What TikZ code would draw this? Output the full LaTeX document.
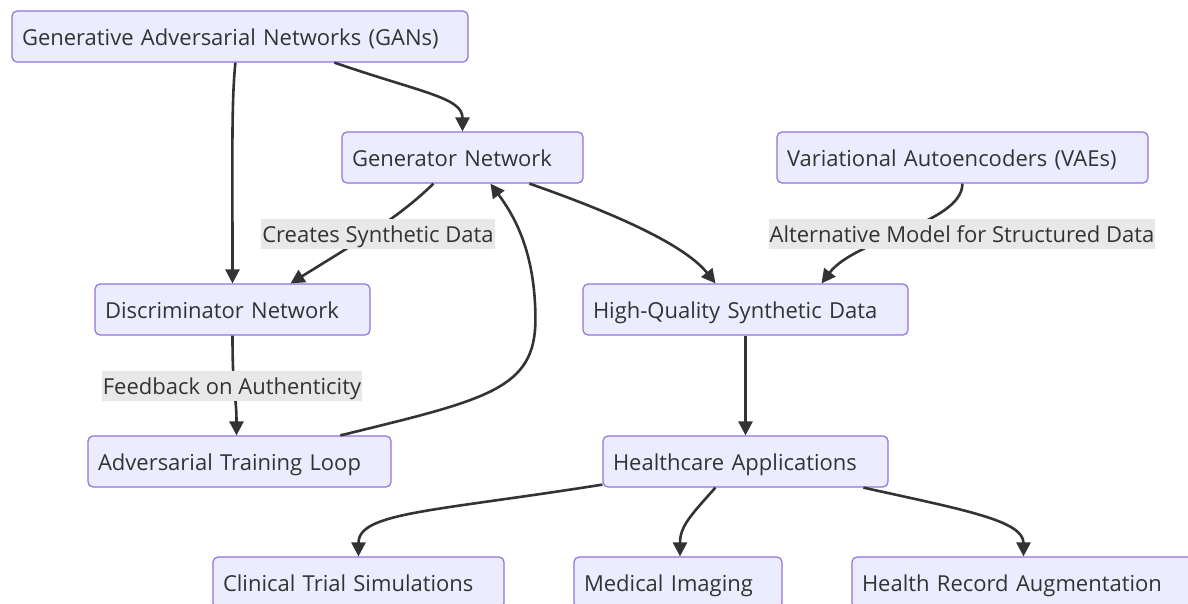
\documentclass[tikz,border=0pt]{standalone}
\usepackage{fontspec}
\setmainfont{Open Sans}
\usetikzlibrary{arrows.meta,calc}
\definecolor{boxfill}{HTML}{ECECFF}
\definecolor{boxline}{HTML}{9370DB}
\definecolor{ink}{HTML}{333333}
\definecolor{lblgray}{HTML}{E8E8E8}
\begin{document}
\begin{tikzpicture}[x=1pt,y=-1pt,
  box/.style={draw=boxline, fill=boxfill, line width=1.2pt, rounded corners=5pt,
    inner xsep=10pt, inner ysep=0pt, minimum height=51pt, align=left,
    text height=20pt, text depth=2pt,
    text=ink, font=\fontsize{22}{26}\selectfont},
  lbl/.style={fill=lblgray, inner xsep=1pt, inner ysep=0pt, minimum height=30pt,
    text height=19pt, text depth=3pt,
    text=ink, font=\fontsize{22}{26}\selectfont},
  flow/.style={draw=ink, line width=2.6pt, -{Triangle[length=14pt,width=14pt]}}]
\path[use as bounding box] (0,0) rectangle (1188,603);
\clip (0,0) rectangle (1188,603);

% model boxes
\node[box, text width=436pt] (gans) at (240,36.5) {Generative Adversarial Networks (GANs)};
\node[box, text width=221pt] (gen)  at (462.5,157.5) {Generator Network};
\node[box, text width=351pt] (vae)  at (962.5,157.5) {Variational Autoencoders (VAEs)};
\node[box, text width=255pt] (disc) at (232.5,309.5) {Discriminator Network};
\node[box, text width=305pt] (hq)   at (745.5,309.5) {High-Quality Synthetic Data};
\node[box, text width=283pt] (adv)  at (239.5,461.5) {Adversarial Training Loop};
\node[box, text width=265pt] (hc)   at (745.5,461.5) {Healthcare Applications};
\node[box, text width=271pt] (cts)  at (358.5,582.5) {Clinical Trial Simulations};
\node[box, text width=188pt] (med)  at (678,582.5) {Medical Imaging};
\node[box, text width=321pt] (hra)  at (1022.5,582.5) {Health Record Augmentation};

% connectors (offsets in picture units, y pointing down)
\draw[flow] ($(gans.south west)+(224,0)$) .. controls ($(gans.south west)+(220,40)$) and ($(disc.north)+(0,-130)$) .. (disc.north);
\draw[flow] ($(gans.south west)+(323,0)$) .. controls ($(gans.south west)+(410,30)$) and ($(gen.north)+(0,-34)$) .. (gen.north);
\draw[flow] ($(gen.south west)+(92,0)$) .. controls ($(gen.south west)+(58,34)$) and ($(disc.north)+(116,-36)$) .. ($(disc.north)+(58,0)$);
\draw[flow] ($(gen.south west)+(188,0)$) .. controls ($(gen.south west)+(268,28)$) and ($(hq.north)+(-62,-40)$) .. ($(hq.north)+(-30,0)$);
\draw[flow] ($(vae.south west)+(186,0)$) .. controls ($(vae.south west)+(186,40)$) and ($(hq.north)+(110,-45)$) .. ($(hq.north)+(76,0)$);
\draw[flow] (disc.south) .. controls ($(disc.south)+(0,60)$) and ($(adv.north)+(-3,-40)$) .. ($(adv.north)+(-3,0)$);
\draw[flow] ($(adv.north west)+(253,0)$) .. controls ($(adv.north west)+(400,-36)$) and ($(adv.north west)+(448,-46)$) .. ($(adv.north west)+(448,-116)$)
  .. controls ($(gen.south)+(73,66)$) and ($(gen.south)+(50,30)$) .. ($(gen.south)+(28,0)$);
\draw[flow] (hq.south) -- (hc.north);
\draw[flow] ($(hc.south west)+(0,-3)$) .. controls ($(hc.south west)+(-170,24)$) and ($(cts.north)+(0,-44)$) .. (cts.north);
\draw[flow] ($(hc.south west)+(113,0)$) .. controls ($(hc.south west)+(88,28)$) and ($(med.north)+(2,-30)$) .. ($(med.north)+(2,0)$);
\draw[flow] ($(hc.south west)+(261,0)$) .. controls ($(hc.south west)+(360,22)$) and ($(hra.north)+(1,-36)$) .. ($(hra.north)+(1,0)$);

% connector labels
\node[lbl] (l1) at (378,234) {Creates Synthetic Data};
\node[lbl] (l2) at (962,234) {Alternative Model for Structured Data};
\node[lbl] (l3) at (232,386) {Feedback on Authenticity};
\end{tikzpicture}
\end{document}
